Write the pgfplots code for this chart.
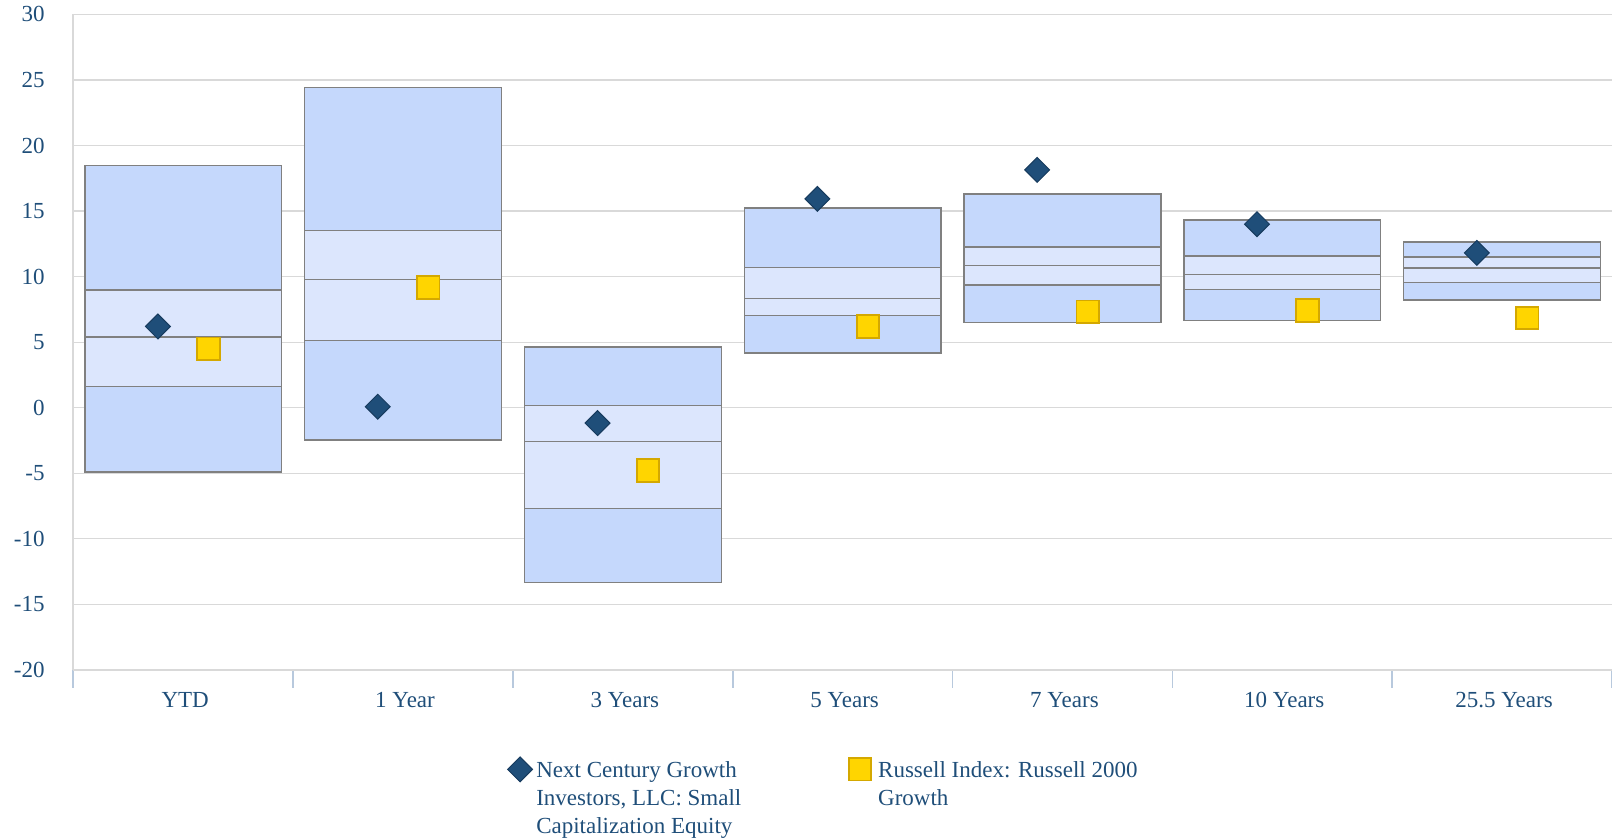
\documentclass[border=0pt]{standalone}
\usepackage{pgfplots}
\pgfplotsset{compat=1.18}
\usepackage{pgfplotstable}
\usepackage{fontspec}
\setmainfont{Liberation Serif}
\definecolor{txt}{HTML}{1F4E79}
\definecolor{gridc}{HTML}{D9D9D9}
\definecolor{tickc}{HTML}{B8C9DD}
\definecolor{outerf}{HTML}{C5D8FC}
\definecolor{innerf}{HTML}{DCE6FD}
\definecolor{boxc}{HTML}{808080}
\definecolor{diamf}{HTML}{1F4E79}
\definecolor{diamd}{HTML}{173B5E}
\definecolor{sqf}{HTML}{FFD500}
\definecolor{sqd}{HTML}{D4A800}
\pgfplotstableread{
x lo q1 med q3 hi
0 -4.90 1.62 5.41 8.99 18.47
1 -2.46 5.11 9.78 13.51 24.41
2 -13.34 -7.70 -2.59 0.15 4.63
3 4.17 7.04 8.31 10.69 15.22
4 6.48 9.35 10.85 12.27 16.31
5 6.66 9.02 10.14 11.56 14.33
6 8.21 9.53 10.65 11.51 12.65
}\boxdata
\newcommand{\lentry}[2]{\raisebox{0pt}[\height][0pt]{\begin{tabular}[t]{@{\hspace{#1}}l@{}}#2\end{tabular}}}
\begin{document}
\begin{tikzpicture}[font=\fontsize{11.5}{13.9}\selectfont]
\useasboundingbox (0,0) rectangle (806pt,419.5pt);
\begin{axis}[
  at={(36.65pt,84.5pt)}, anchor=south west,
  width=769.35pt, height=327.8pt, scale only axis,
  xmin=-0.5, xmax=6.5, ymin=-20, ymax=30,
  ybar stacked, stack negative=on previous, bar width=0.895,
  ytick={-20,-15,...,30},
  xtick={0,...,6},
  xticklabels={YTD,1 Year,3 Years,5 Years,7 Years,10 Years,25.5 Years},
  minor xtick={-0.5,0.5,...,6.5},
  axis x line*=bottom, axis y line*=left,
  x axis line style={draw=gridc, line width=0.6pt},
  y axis line style={draw=gridc, line width=0.9pt},
  ymajorgrids, grid style={draw=gridc, line width=0.6pt},
  tick align=outside,
  major tick length=0pt, minor tick length=9pt,
  major x tick style={draw=none}, major y tick style={draw=none},
  minor x tick style={draw=tickc, line width=0.8pt},
  ticklabel style={text=txt},
  /pgf/number format/assume math mode=true,
  yticklabel style={xshift=-10.8pt},
  xticklabel style={anchor=base, yshift=-19pt, xshift=1pt},
  clip=false,
]
\addplot[draw=none, fill=none, forget plot] table[x=x, y=lo] {\boxdata};
\addplot[fill=outerf, draw=boxc, line width=0.7pt] table[x=x, y expr=\thisrow{q1}-\thisrow{lo}] {\boxdata};
\addplot[fill=innerf, draw=boxc, line width=0.7pt] table[x=x, y expr=\thisrow{med}-\thisrow{q1}] {\boxdata};
\addplot[fill=innerf, draw=boxc, line width=0.7pt] table[x=x, y expr=\thisrow{q3}-\thisrow{med}] {\boxdata};
\addplot[fill=outerf, draw=boxc, line width=0.7pt] table[x=x, y expr=\thisrow{hi}-\thisrow{q3}] {\boxdata};
\end{axis}
\begin{axis}[
  at={(36.65pt,84.5pt)}, anchor=south west,
  width=769.35pt, height=327.8pt, scale only axis,
  xmin=-0.5, xmax=6.5, ymin=-20, ymax=30,
  hide axis, clip=false,
  legend columns=2,
  legend cell align=left,
  legend image code/.code={\draw[#1] plot coordinates {(0pt,0pt)};},
  legend style={at={(axis description cs:0.282,-0.1296)}, anchor=north west,
    draw=none, fill=none, inner sep=0pt, text=txt,
    nodes={inner sep=1.4pt},
    /tikz/every even column/.append style={column sep=52.4pt}},
]
\addplot[only marks, mark=square*, mark size=4.4pt,
  mark options={rotate=45, fill=diamf, draw=diamd, line width=0.5pt}]
  coordinates {(-0.115,6.20) (0.885,0.08) (1.885,-1.17) (2.885,15.93) (3.885,18.14) (4.885,14.00) (5.885,11.81)};
\addlegendentry{\lentry{0.5pt}{Next Century Growth\\Investors, LLC: Small\\Capitalization Equity}}
\addplot[only marks, mark=square*, mark size=5.6pt,
  mark options={fill=sqf, draw=sqd, line width=0.9pt}]
  coordinates {(0.115,4.50) (1.115,9.17) (2.115,-4.78) (3.115,6.20) (4.115,7.32) (5.115,7.42) (6.115,6.84)};
\addlegendentry{\lentry{2pt}{Russell Index: Russell 2000\\Growth}}
\end{axis}
\end{tikzpicture}
\end{document}
